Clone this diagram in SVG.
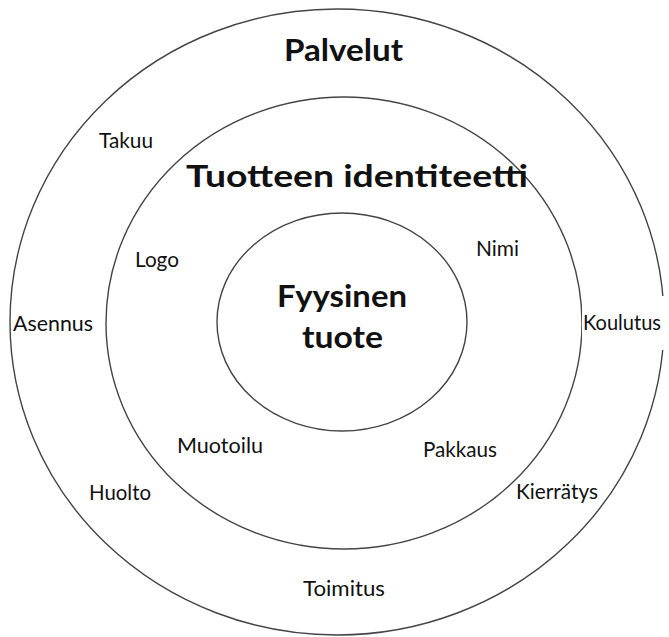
<svg xmlns="http://www.w3.org/2000/svg" width="669" height="637" viewBox="0 0 669 637">
<style>
.ring{fill:none;stroke:#444;stroke-width:1.4}
.t{font-family:Lato,"Open Sans","Liberation Sans",sans-serif;fill:#111}
.lbl{font-size:22px}
.ttl{font-size:30px;font-weight:bold}
</style>
<rect width="669" height="637" fill="#fff"/>
<g id="outer">
<ellipse class="ring" cx="337" cy="322" rx="327" ry="313"/>
</g>
<g id="middle">
<ellipse class="ring" cx="344" cy="323" rx="238" ry="226"/>
</g>
<g id="inner">
<ellipse class="ring" cx="342" cy="322" rx="125" ry="109"/>
</g>
<g id="labels">
<text class="t ttl" x="343.5" y="61" text-anchor="middle" textLength="119" lengthAdjust="spacingAndGlyphs">Palvelut</text>
<text class="t lbl" x="126" y="148" text-anchor="middle" textLength="54" lengthAdjust="spacingAndGlyphs">Takuu</text>
<text class="t ttl" x="357" y="187" text-anchor="middle" textLength="342" lengthAdjust="spacingAndGlyphs">Tuotteen identiteetti</text>
<text class="t lbl" x="157" y="267" text-anchor="middle" textLength="44" lengthAdjust="spacingAndGlyphs">Logo</text>
<text class="t lbl" x="497.5" y="256" text-anchor="middle" textLength="43" lengthAdjust="spacingAndGlyphs">Nimi</text>
<text class="t ttl" x="342" y="307" text-anchor="middle" textLength="130" lengthAdjust="spacingAndGlyphs">Fyysinen</text>
<text class="t ttl" x="342.5" y="348" text-anchor="middle" textLength="81" lengthAdjust="spacingAndGlyphs">tuote</text>
<text class="t lbl" x="53" y="331" text-anchor="middle" textLength="80" lengthAdjust="spacingAndGlyphs">Asennus</text>
<rect x="582" y="296" width="87" height="54" fill="#fff"/>
<text class="t lbl" x="622" y="330" text-anchor="middle" style="font-size:21px" textLength="78" lengthAdjust="spacingAndGlyphs">Koulutus</text>
<text class="t lbl" x="220" y="453" text-anchor="middle" textLength="86" lengthAdjust="spacingAndGlyphs">Muotoilu</text>
<text class="t lbl" x="460" y="457" text-anchor="middle" textLength="74" lengthAdjust="spacingAndGlyphs">Pakkaus</text>
<text class="t lbl" x="120" y="500" text-anchor="middle" textLength="62" lengthAdjust="spacingAndGlyphs">Huolto</text>
<text class="t lbl" x="557" y="499" text-anchor="middle" textLength="82" lengthAdjust="spacingAndGlyphs">Kierrätys</text>
<text class="t lbl" x="344" y="596" text-anchor="middle" textLength="82" lengthAdjust="spacingAndGlyphs">Toimitus</text>
</g>
</svg>
